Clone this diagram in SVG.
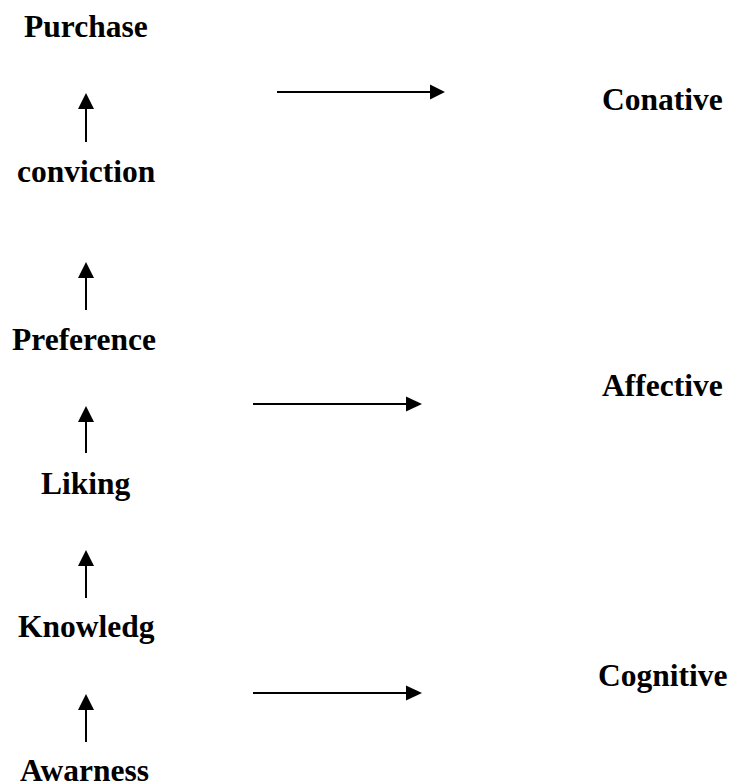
<svg xmlns="http://www.w3.org/2000/svg" width="730" height="784" viewBox="0 0 730 784">
<style>
.t{font-family:"Liberation Serif","Times New Roman",serif;font-weight:bold;font-size:31.5px;fill:#000}
.c{stroke:#000;stroke-width:2;fill:none}
.h{fill:#000}
</style>
<rect width="730" height="784" fill="#fff"/>
<g id="purchase"><text class="t" x="24" y="37">Purchase</text></g>
<g id="conviction"><text class="t" x="17" y="182">conviction</text></g>
<g id="preference"><text class="t" x="12" y="350">Preference</text></g>
<g id="liking"><text class="t" x="41" y="494">Liking</text></g>
<g id="knowledg"><text class="t" x="18" y="637">Knowledg</text></g>
<g id="awarness"><text class="t" x="20" y="781">Awarness</text></g>
<g id="conative"><text class="t" x="602" y="110">Conative</text></g>
<g id="affective"><text class="t" x="602" y="396">Affective</text></g>
<g id="cognitive"><text class="t" x="598" y="686">Cognitive</text></g>
<g id="connectors">
<line class="c" x1="86" y1="142" x2="86" y2="106"/><polygon class="h" points="86,93 78,109 94,109"/>
<line class="c" x1="86" y1="310" x2="86" y2="275"/><polygon class="h" points="86,262 78,278 94,278"/>
<line class="c" x1="86" y1="453" x2="86" y2="419"/><polygon class="h" points="86,406 78,422 94,422"/>
<line class="c" x1="86" y1="598" x2="86" y2="563"/><polygon class="h" points="86,550 78,566 94,566"/>
<line class="c" x1="86" y1="742" x2="86" y2="707"/><polygon class="h" points="86,694 78,710 94,710"/>
<line class="c" x1="277" y1="92" x2="432" y2="92"/><polygon class="h" points="445,92 430,84.5 430,99.5"/>
<line class="c" x1="253" y1="404" x2="408" y2="404"/><polygon class="h" points="422,404 406,396.5 406,411.5"/>
<line class="c" x1="253" y1="693" x2="408" y2="693"/><polygon class="h" points="422,693 406,685.5 406,700.5"/>
</g>
</svg>
